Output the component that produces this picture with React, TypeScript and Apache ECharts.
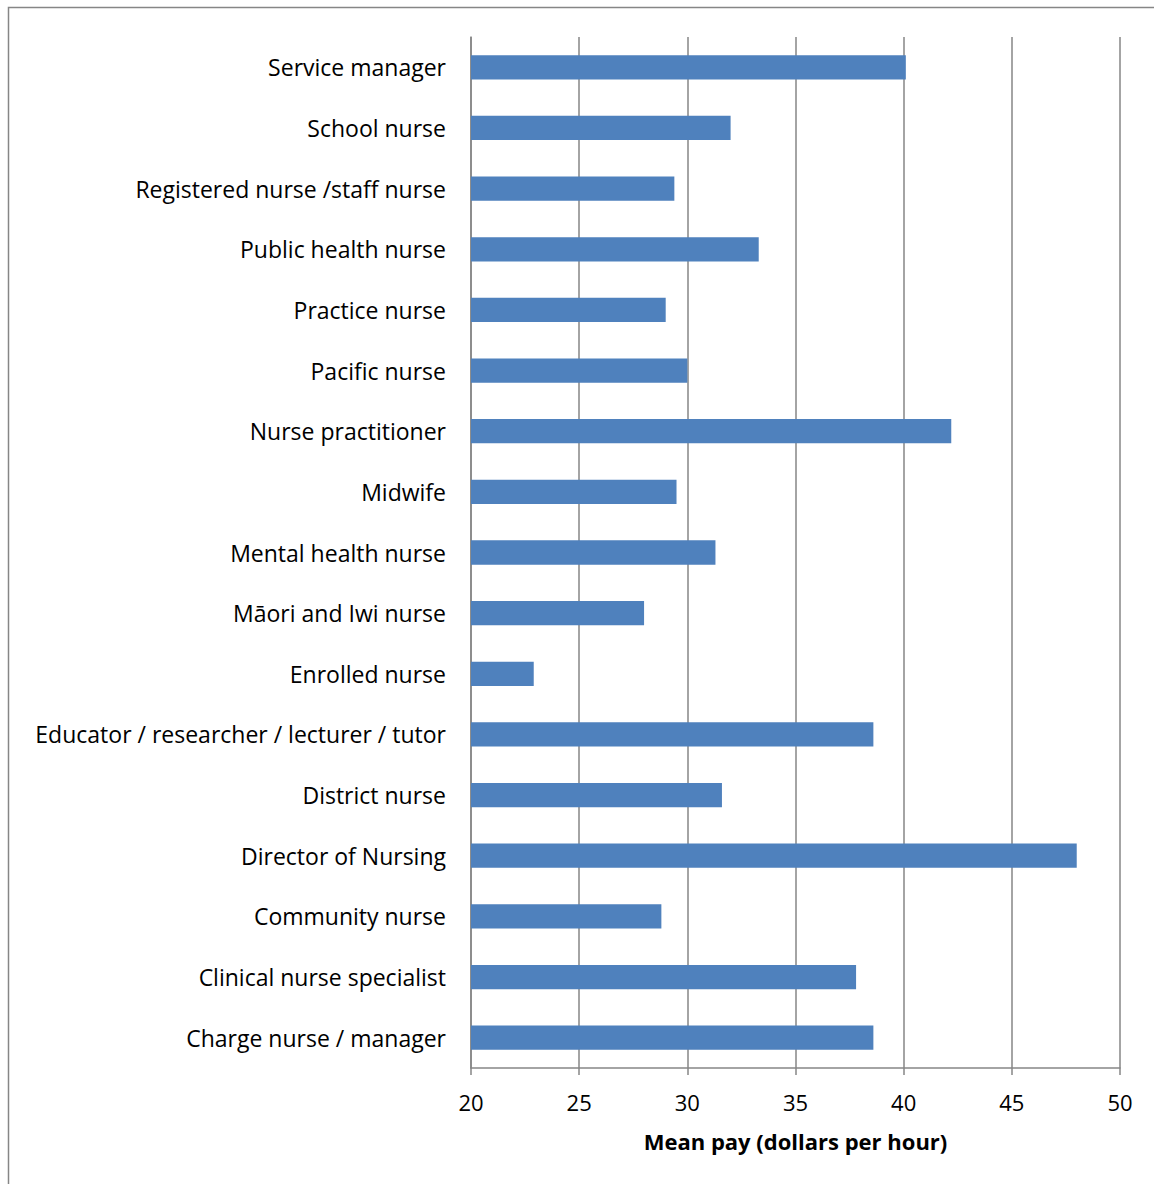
import React, { useEffect, useRef } from "react";
import * as echarts from "echarts";

const categories = [
  "Service manager",
  "School nurse",
  "Registered nurse /staff nurse",
  "Public health nurse",
  "Practice nurse",
  "Pacific nurse",
  "Nurse practitioner",
  "Midwife",
  "Mental health nurse",
  "Māori and Iwi nurse",
  "Enrolled nurse",
  "Educator / researcher / lecturer / tutor",
  "District nurse",
  "Director of Nursing",
  "Community nurse",
  "Clinical nurse specialist",
  "Charge nurse / manager",
];

const meanPay = [
  40.1, 32.0, 29.4, 33.3, 29.0, 30.0, 42.2, 29.5, 31.3, 28.0, 22.9, 38.6, 31.6,
  48.0, 28.8, 37.8, 38.6,
];

const xTicks = { min: 20, max: 50, interval: 5 };
const xAxisName = "Mean pay (dollars per hour)";

const FONT = "'Open Sans', sans-serif";

export default function App() {
  const ref = useRef<HTMLDivElement>(null);
  useEffect(() => {
    if (!ref.current) return;
    const chart = echarts.init(ref.current, undefined, { renderer: "svg" });
    chart.setOption({
      animation: false,
      backgroundColor: "#ffffff",
      grid: { left: 471, right: 34, top: 37, bottom: 116, containLabel: false },
      graphic: [
        {
          type: "rect",
          shape: { x: 8.5, y: 7.5, width: 1200, height: 1250 },
          style: { fill: "none", stroke: "#868686", lineWidth: 1.5 },
          silent: true,
        },
      ],
      xAxis: {
        type: "value",
        min: xTicks.min,
        max: xTicks.max,
        interval: xTicks.interval,
        name: xAxisName,
        nameLocation: "middle",
        nameGap: 62,
        nameTextStyle: {
          fontFamily: FONT,
          fontSize: 22,
          fontWeight: "bold",
          color: "#000",
        },
        axisLine: { show: true, lineStyle: { color: "#868686", width: 1.5 } },
        axisTick: { show: true, length: 7, lineStyle: { color: "#868686", width: 1.5 } },
        axisLabel: { fontFamily: FONT, fontSize: 22, color: "#000", margin: 23 },
        splitLine: { show: true, lineStyle: { color: "#868686", width: 1.5 } },
      },
      yAxis: {
        type: "category",
        data: categories,
        inverse: true,
        axisLine: { show: true, lineStyle: { color: "#868686", width: 1.5 } },
        axisTick: { show: false },
        axisLabel: { fontFamily: FONT, fontSize: 23, color: "#000", margin: 25 },
        splitLine: { show: false },
      },
      series: [
        {
          type: "bar",
          data: meanPay,
          barWidth: "40%",
          itemStyle: { color: "#4F81BD" },
        },
      ],
    });
    return () => chart.dispose();
  }, []);
  return (
    <div
      ref={ref}
      style={{ position: "absolute", left: 0, top: 0, width: 1154, height: 1184 }}
    />
  );
}
